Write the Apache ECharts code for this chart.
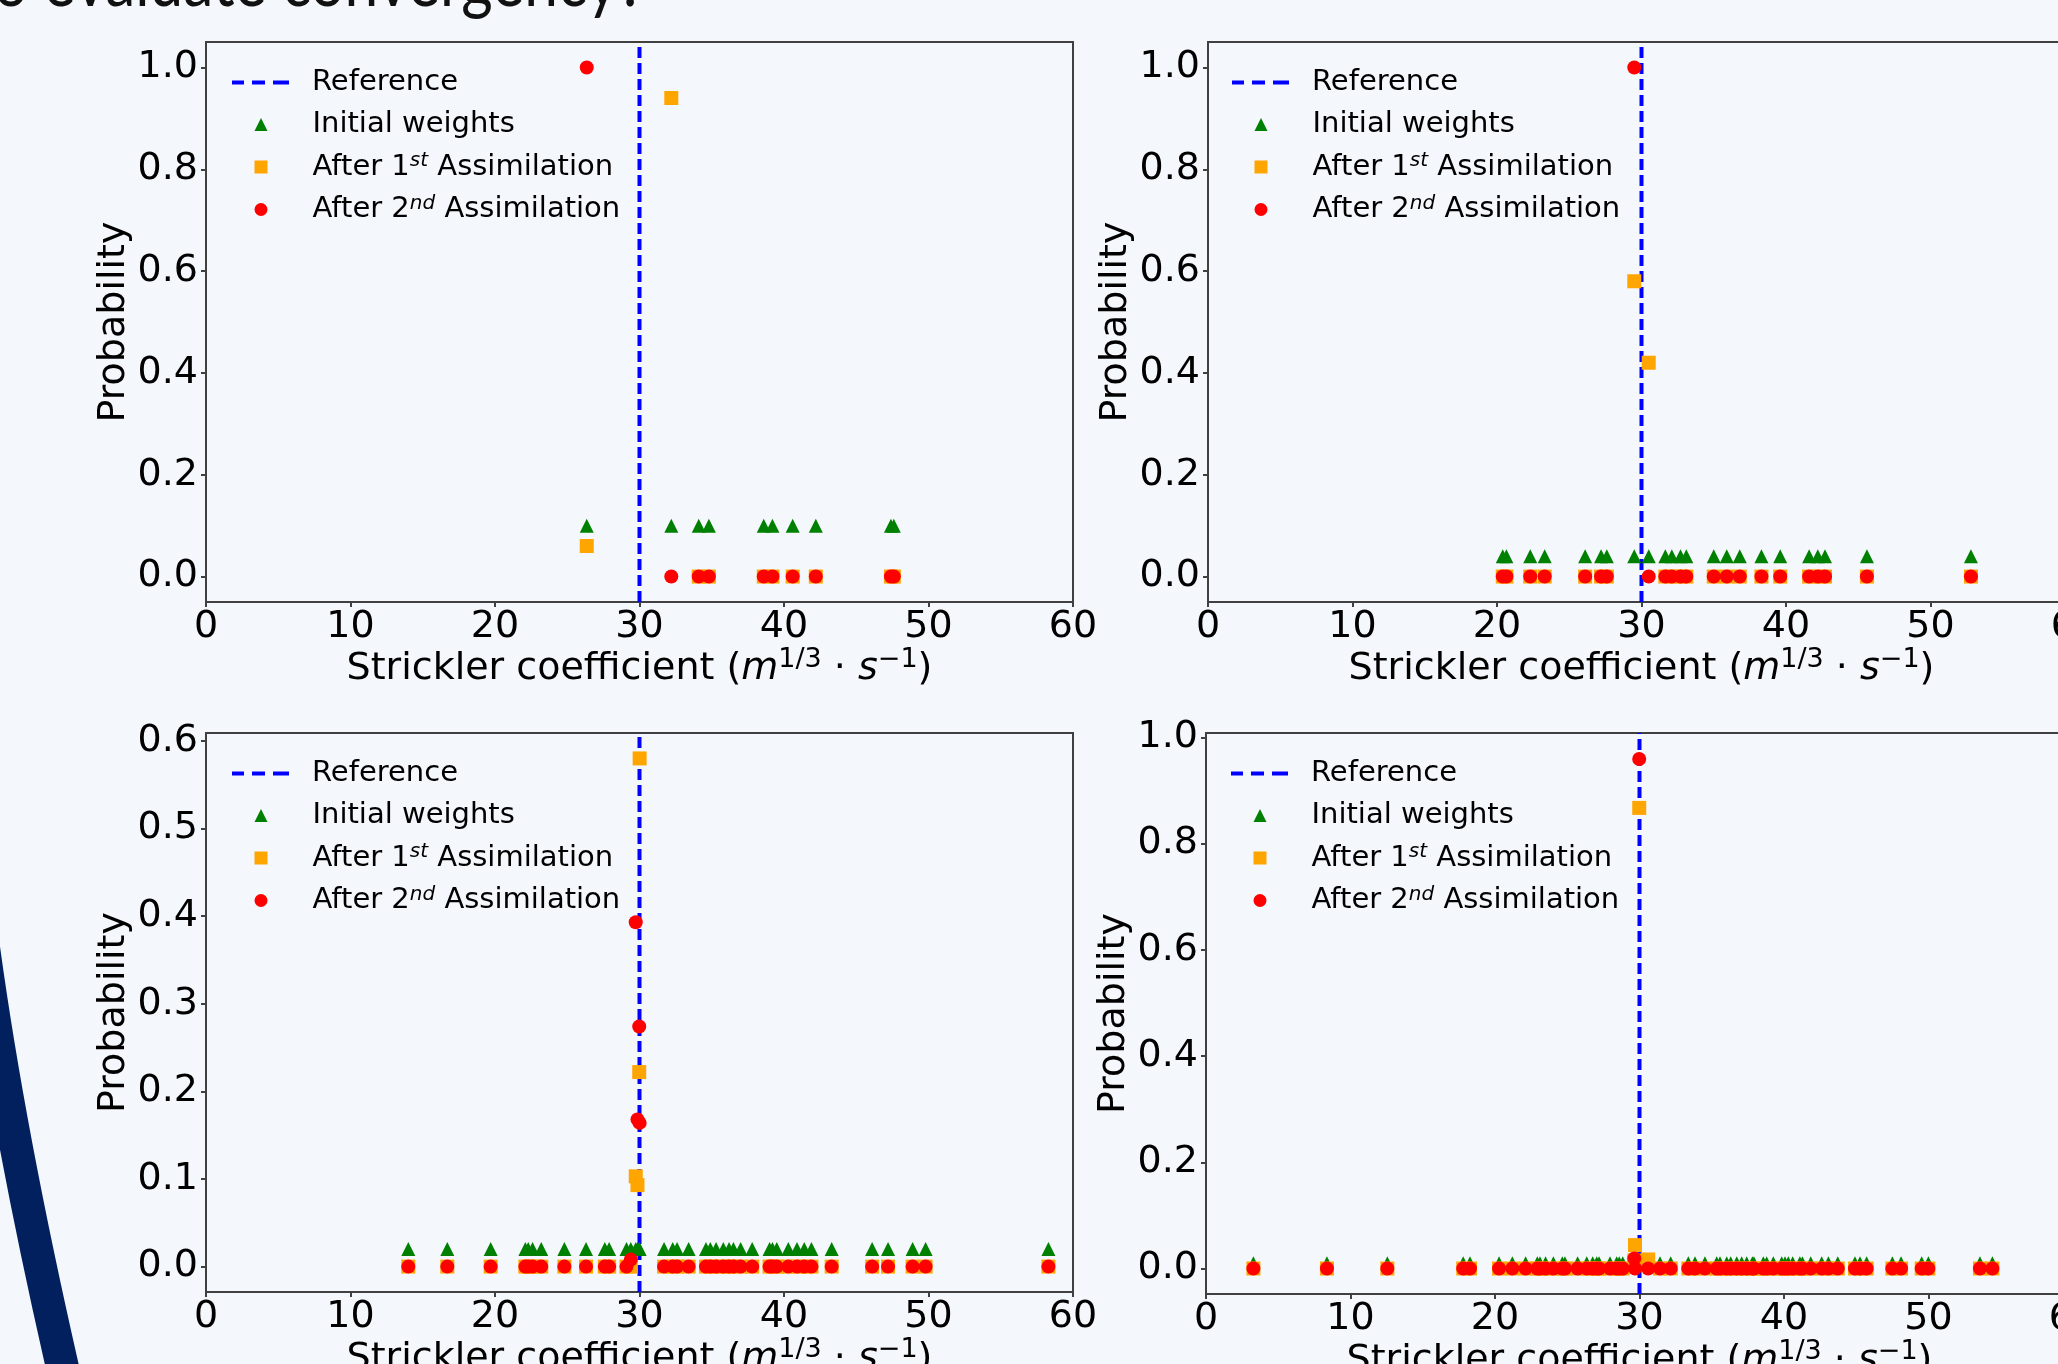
<!DOCTYPE html>
<html>
<head>
<meta charset="utf-8">
<title>Particle weights vs Strickler coefficient</title>
<script src="https://cdn.jsdelivr.net/npm/echarts@6.0.0/dist/echarts.min.js"></script>
<style>
  html, body { margin: 0; padding: 0; background: #f4f7fc; }
  #chart { width: 2058px; height: 1364px; }
</style>
</head>
<body>
<div id="chart"></div>
<script>
// reference Strickler value (dashed blue line)
const refValue = 30;

// tick labels
const xTicks = [0, 10, 20, 30, 40, 50, 60];
const yTicksUnit = [0, 0.2, 0.4, 0.6, 0.8, 1.0];
const yTicksLow = [0, 0.1, 0.2, 0.3, 0.4, 0.5, 0.6];

// y limits of each panel (matplotlib auto margins)
const p1YLim = [-0.05, 1.05];
const p2YLim = [-0.05, 1.05];
const p3YLim = [-0.029, 0.609];
const p4YLim = [-0.048, 1.008];

// panel 1 (top left) : 10 particles
const p1X  = [26.35, 32.2, 34.1, 34.8, 38.6, 39.2, 40.6, 42.2, 47.4, 47.6];
const p1W0 = [0.1, 0.1, 0.1, 0.1, 0.1, 0.1, 0.1, 0.1, 0.1, 0.1];
const p1W1 = [0.06, 0.94, 0, 0, 0, 0, 0, 0, 0, 0];
const p1W2 = [1.0, 0, 0, 0, 0, 0, 0, 0, 0, 0];

// panel 2 (top right)
const p2X  = [20.4, 20.65, 22.3, 23.3, 26.1, 27.2, 27.6, 29.5, 30.5, 31.65,
              32.1, 32.7, 33.1, 35.0, 35.9, 36.8, 38.3, 39.6, 41.6, 42.2,
              42.7, 45.6, 52.8];
const p2W0 = [0.04, 0.04, 0.04, 0.04, 0.04, 0.04, 0.04, 0.04, 0.04, 0.04,
              0.04, 0.04, 0.04, 0.04, 0.04, 0.04, 0.04, 0.04, 0.04, 0.04,
              0.04, 0.04, 0.04];
const p2W1 = [0, 0, 0, 0, 0, 0, 0, 0.58, 0.42, 0,
              0, 0, 0, 0, 0, 0, 0, 0, 0, 0,
              0, 0, 0];
const p2W2 = [0, 0, 0, 0, 0, 0, 0, 1.0, 0, 0,
              0, 0, 0, 0, 0, 0, 0, 0, 0, 0,
              0, 0, 0];

// panel 3 (bottom left)
const p3X  = [14.0, 16.7, 19.7, 22.1, 22.3, 22.6, 23.2, 24.8, 26.3, 27.6,
              27.9, 29.1, 29.4, 29.74, 29.86, 29.98, 30.01, 31.7, 32.3, 32.6,
              33.4, 34.6, 34.9, 35.3, 35.8, 36.2, 36.5, 37.0, 37.8, 39.0,
              39.2, 39.5, 40.3, 40.9, 41.4, 41.9, 43.3, 46.1, 47.2, 48.9,
              49.8, 58.3];
const p3W0 = [0.02, 0.02, 0.02, 0.02, 0.02, 0.02, 0.02, 0.02, 0.02, 0.02,
              0.02, 0.02, 0.02, 0.02, 0.02, 0.02, 0.02, 0.02, 0.02, 0.02,
              0.02, 0.02, 0.02, 0.02, 0.02, 0.02, 0.02, 0.02, 0.02, 0.02,
              0.02, 0.02, 0.02, 0.02, 0.02, 0.02, 0.02, 0.02, 0.02, 0.02,
              0.02, 0.02];
const p3W1 = [0, 0, 0, 0, 0, 0, 0, 0, 0, 0,
              0, 0, 0, 0.103, 0.093, 0.222, 0.58, 0, 0, 0,
              0, 0, 0, 0, 0, 0, 0, 0, 0, 0,
              0, 0, 0, 0, 0, 0, 0, 0, 0, 0,
              0, 0];
const p3W2 = [0, 0, 0, 0, 0, 0, 0, 0, 0, 0,
              0, 0, 0.008, 0.393, 0.168, 0.274, 0.164, 0, 0, 0,
              0, 0, 0, 0, 0, 0, 0, 0, 0, 0,
              0, 0, 0, 0, 0, 0, 0, 0, 0, 0,
              0, 0];

// panel 4 (bottom right)
const p4X  = [3.28, 8.37, 12.55, 17.8, 18.27, 20.28, 21.2, 22.12, 22.93, 23.11,
              23.5, 24.04, 24.66, 24.84, 25.72, 26.35, 26.76, 27.04, 27.2, 27.96,
              28.42, 28.6, 28.84, 29.64, 29.69, 29.98, 30.6, 31.42, 32.16, 33.38,
              33.84, 34.53, 35.34, 35.57, 36.04, 36.31, 36.73, 37.07, 37.42, 37.81,
              37.92, 38.57, 38.8, 39.26, 39.84, 40.07, 40.3, 40.6, 41.1, 41.27,
              41.85, 42.61, 43.07, 43.72, 44.91, 45.26, 45.72, 47.5, 48.1, 49.53,
              49.99, 53.56, 54.42];
const p4W0 = [0.01, 0.01, 0.01, 0.01, 0.01, 0.01, 0.01, 0.01, 0.01, 0.01,
              0.01, 0.01, 0.01, 0.01, 0.01, 0.01, 0.01, 0.01, 0.01, 0.01,
              0.01, 0.01, 0.01, 0.01, 0.01, 0.01, 0.01, 0.01, 0.01, 0.01,
              0.01, 0.01, 0.01, 0.01, 0.01, 0.01, 0.01, 0.01, 0.01, 0.01,
              0.01, 0.01, 0.01, 0.01, 0.01, 0.01, 0.01, 0.01, 0.01, 0.01,
              0.01, 0.01, 0.01, 0.01, 0.01, 0.01, 0.01, 0.01, 0.01, 0.01,
              0.01, 0.01, 0.01];
const p4W1 = [0, 0, 0, 0, 0, 0, 0, 0, 0, 0,
              0, 0, 0, 0, 0, 0, 0, 0, 0, 0,
              0, 0, 0, 0.015, 0.044, 0.867, 0.017, 0, 0, 0,
              0, 0, 0, 0, 0, 0, 0, 0, 0, 0,
              0, 0, 0, 0, 0, 0, 0, 0, 0, 0,
              0, 0, 0, 0, 0, 0, 0, 0, 0, 0,
              0, 0, 0];
const p4W2 = [0, 0, 0, 0, 0, 0, 0, 0, 0, 0,
              0, 0, 0, 0, 0, 0, 0, 0, 0, 0,
              0, 0, 0, 0.019, 0, 0.959, 0, 0, 0, 0,
              0, 0, 0, 0, 0, 0, 0, 0, 0, 0,
              0, 0, 0, 0, 0, 0, 0, 0, 0, 0,
              0, 0, 0, 0, 0, 0, 0, 0, 0, 0,
              0, 0, 0];

const FONT = 'DejaVu Sans';
const names = ['Reference', 'Initial weights', 'After 1st Assimilation', 'After 2nd Assimilation'];
const legendText = {
  'Reference': '{g|}{n|Reference}',
  'Initial weights': '{h|}{n|Initial weights}',
  'After 1st Assimilation': '{h|}{n|After 1}{sup|st}{n| Assimilation}',
  'After 2nd Assimilation': '{h|}{n|After 2}{sup|nd}{n| Assimilation}'
};
// dashed line sample for the legend
const dashIcon = 'path://M0,0h12v4h-12z M20,0h13v4h-13z M41,0h16v4h-16z';

const panels = [
  {xs: p1X, w0: p1W0, w1: p1W1, w2: p1W2, yLim: p1YLim, yTicks: yTicksUnit,
   grid: {left: 206, top: 42, width: 867, height: 560}, legend: {left: 232, mark: 261, top: 68}},
  {xs: p2X, w0: p2W0, w1: p2W1, w2: p2W2, yLim: p2YLim, yTicks: yTicksUnit,
   grid: {left: 1208, top: 42, width: 867, height: 560}, legend: {left: 1232, mark: 1261, top: 68}},
  {xs: p3X, w0: p3W0, w1: p3W1, w2: p3W2, yLim: p3YLim, yTicks: yTicksLow,
   grid: {left: 206, top: 733, width: 867, height: 559}, legend: {left: 232, mark: 261, top: 759}},
  {xs: p4X, w0: p4W0, w1: p4W1, w2: p4W2, yLim: p4YLim, yTicks: yTicksUnit,
   grid: {left: 1206, top: 733, width: 867, height: 561}, legend: {left: 1231, mark: 1260, top: 759}}
];

const pairs = (xs, ws) => xs.map((x, i) => [x, ws[i]]);

const legendRich = {
  g: {width: 18},
  h: {width: 40},
  n: {fontSize: 29, fontFamily: FONT, color: '#000', lineHeight: 32},
  sup: {fontSize: 20, fontFamily: FONT, fontStyle: 'italic', color: '#000', lineHeight: 20, verticalAlign: 'top'}
};

const option = {
  animation: false,
  backgroundColor: '#f4f7fc',
  textStyle: {fontFamily: FONT},
  grid: [],
  xAxis: [],
  yAxis: [],
  legend: [],
  series: [],
  graphic: [
    {
      type: 'text', x: 645, y: 19, scaleX: 0.84, silent: true,
      style: {
        text: 'How to evaluate convergency?', fontSize: 72, fontFamily: 'Lato',
        fill: '#111111', align: 'right', verticalAlign: 'bottom'
      }
    },
    {
      type: 'bezierCurve', silent: true,
      shape: {x1: -25, y1: 880, cpx1: 0, cpy1: 1100, x2: 70, y2: 1400},
      style: {stroke: '#02205e', lineWidth: 33, fill: null}
    }
  ]
};

panels.forEach((p, k) => {
  option.grid.push(Object.assign({
    show: true, borderColor: '#404040', borderWidth: 2,
    backgroundColor: 'transparent', containLabel: false, outerBoundsMode: 'none'
  }, p.grid));

  option.xAxis.push({
    type: 'value', gridIndex: k, min: 0, max: 60, interval: 10,
    name: '{n|Strickler coefficient (}{i|m}{sup|1/3}{n| · }{i|s}{sup|−1}{n|)}',
    nameLocation: 'middle', nameGap: 43,
    nameTextStyle: {
      rich: {
        n: {fontSize: 38, fontFamily: FONT, color: '#000', lineHeight: 44},
        i: {fontSize: 38, fontFamily: FONT, fontStyle: 'italic', color: '#000', lineHeight: 44},
        sup: {fontSize: 27, fontFamily: FONT, color: '#000', lineHeight: 26, verticalAlign: 'top'}
      }
    },
    axisLine: {show: false, onZero: false},
    axisTick: {show: true, length: 5, customValues: xTicks, lineStyle: {color: '#404040', width: 2}},
    axisLabel: {customValues: xTicks, fontSize: 38, color: '#000', fontFamily: FONT, margin: 6},
    splitLine: {show: false}
  });

  option.yAxis.push({
    type: 'value', gridIndex: k, min: p.yLim[0], max: p.yLim[1],
    name: 'Probability', nameLocation: 'middle', nameGap: 69, nameRotate: 90,
    nameTextStyle: {fontSize: 38, color: '#000', fontFamily: FONT, lineHeight: 40},
    axisLine: {show: false},
    axisTick: {show: true, length: 5, customValues: p.yTicks, lineStyle: {color: '#404040', width: 2}},
    axisLabel: {
      customValues: p.yTicks, fontSize: 38, color: '#000', fontFamily: FONT, margin: 8,
      padding: [8, 0, 0, 0],
      formatter: v => v.toFixed(1)
    },
    splitLine: {show: false}
  });

  // legend: dashed reference line entry
  option.legend.push({
    orient: 'vertical', left: p.legend.left, top: p.legend.top, padding: 0,
    itemWidth: 57, itemHeight: 4, selectedMode: false,
    data: [{name: names[0], icon: dashIcon}],
    formatter: name => legendText[name],
    textStyle: {color: '#000', rich: legendRich}
  });
  // legend: marker entries
  option.legend.push({
    orient: 'vertical', left: p.legend.mark - 6.5, top: p.legend.top + 42, padding: 0,
    itemWidth: 13, itemHeight: 13, itemGap: 12, selectedMode: false,
    data: [
      {name: names[1], icon: 'triangle'},
      {name: names[2], icon: 'rect'},
      {name: names[3], icon: 'circle'}
    ],
    formatter: name => legendText[name],
    textStyle: {color: '#000', rich: legendRich}
  });

  option.series.push(
    {
      name: names[0], type: 'line', xAxisIndex: k, yAxisIndex: k, z: 1,
      data: [[refValue, p.yLim[0]], [refValue, p.yLim[1]]],
      symbol: 'none', silent: true,
      itemStyle: {color: '#0000ff'},
      lineStyle: {color: '#0000ff', width: 4, type: [11, 5]}
    },
    {
      name: names[1], type: 'scatter', xAxisIndex: k, yAxisIndex: k, z: 2,
      symbol: 'triangle', symbolSize: 14,
      itemStyle: {color: '#008000', opacity: 1},
      data: pairs(p.xs, p.w0)
    },
    {
      name: names[2], type: 'scatter', xAxisIndex: k, yAxisIndex: k, z: 3,
      symbol: 'rect', symbolSize: 14,
      itemStyle: {color: '#ffa500', opacity: 1},
      data: pairs(p.xs, p.w1)
    },
    {
      name: names[3], type: 'scatter', xAxisIndex: k, yAxisIndex: k, z: 4,
      symbol: 'circle', symbolSize: 14,
      itemStyle: {color: '#ff0000', opacity: 1},
      data: pairs(p.xs, p.w2)
    }
  );
});

const chart = echarts.init(document.getElementById('chart'));
chart.setOption(option);
</script>
</body>
</html>
